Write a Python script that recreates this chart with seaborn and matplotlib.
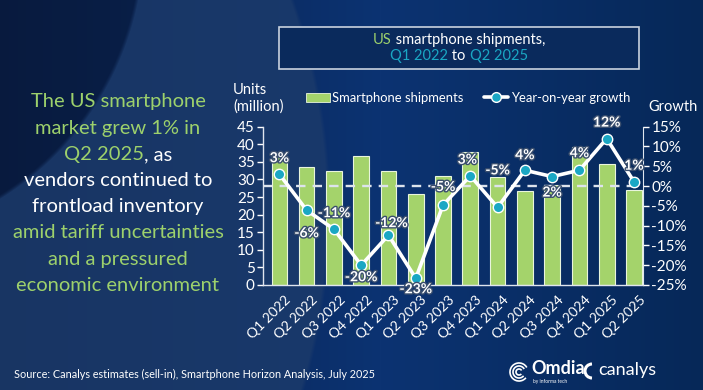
import numpy as np
import matplotlib
matplotlib.use("Agg")
import matplotlib.pyplot as plt
import matplotlib.patheffects as pe
from matplotlib.patches import Patch, Rectangle, Arc
from matplotlib.lines import Line2D
from matplotlib.transforms import ScaledTranslation
import seaborn as sns

sns.set_style("white")
plt.rcParams['font.family'] = ['Lato', 'DejaVu Sans']

# data
quarters = ["Q1 2022", "Q2 2022", "Q3 2022", "Q4 2022", "Q1 2023", "Q2 2023", "Q3 2023",
            "Q4 2023", "Q1 2024", "Q2 2024", "Q3 2024", "Q4 2024", "Q1 2025", "Q2 2025"]
shipments = [36.8, 33.5, 32.5, 36.6, 32.4, 25.8, 31.0, 37.8, 30.6, 26.8, 28.5, 39.1, 34.3, 27.0]
growth = [3.0, -6.1, -10.9, -20.0, -12.4, -23.3, -4.8, 2.6, -5.4, 4.0, 2.4, 4.0, 12.0, 1.1]
growth_labels = ["3%", "-6%", "-11%", "-20%", "-12%", "-23%", "-5%",
                 "3%", "-5%", "4%", "2%", "4%", "12%", "1%"]
left_ticks = [0, 5, 10, 15, 20, 25, 30, 35, 40, 45]
right_ticks = [-25, -20, -15, -10, -5, 0, 5, 10, 15]

# label offsets in pixels (dx, dy)
lab_off = [(0, 16), (0, -23), (0, 16), (0, -12), (3, 12), (0, -11), (0, 18),
           (-3, 16), (0, 37), (0, 15), (0, -16), (0, 17), (0, 16), (0, 16)]

GREEN = "#a4d36b"
TEAL = "#1aa7c4"
TXT_GREEN = "#9dd16c"
WHITE = "#ffffff"

W, H = 703, 390
fig = plt.figure(figsize=(W / 100, H / 100), dpi=100)

# background
def rgb(h):
    h = h.lstrip('#')
    return np.array([int(h[i:i + 2], 16) for i in (0, 2, 4)]) / 255.0

yy, xx = np.mgrid[0:H, 0:W].astype(float)
stops_x = [0, 380, 703]
stops_c = [rgb("#0a1d45"), rgb("#0c3372"), rgb("#062858")]
img = np.zeros((H, W, 3))
for k in range(3):
    img[..., k] = np.interp(xx, stops_x, [c[k] for c in stops_c])

def soft(d):
    return np.clip(d / 4.0, 0, 1)

m_out = soft(630 - np.hypot(xx + 300, yy - 210))
m_in = soft(np.hypot(xx + 160, yy + 60) - 300)
light = m_out * m_in
lc = rgb("#1c3b6b")
img = img * (1 - 0.8 * light[..., None]) + lc * 0.8 * light[..., None]
dark = 1 - m_in
img = img * (1 - 0.5 * dark[..., None]) + rgb("#071838") * 0.5 * dark[..., None]

bg = fig.add_axes([0, 0, 1, 1])
bg.imshow(img, extent=[0, W, H, 0], aspect='auto', zorder=0)
bg.set_xlim(0, W)
bg.set_ylim(H, 0)
bg.axis('off')

# title box
bg.add_patch(Rectangle((279, 27), 360, 42, fill=True, facecolor="#0a2a5c",
                       edgecolor="#c9d2de", lw=1.2, zorder=1))


def rich_line(segments, xc, y, size):
    first = bg.text(xc, y, segments[0][0], color=segments[0][1], ha='left',
                    va='bottom', fontsize=size, zorder=3)
    items = [first]
    for s, c in segments[1:]:
        t = bg.annotate(s, xycoords=items[-1], xy=(1, 0), va='bottom', ha='left',
                        color=c, fontsize=size, zorder=3)
        items.append(t)
    fig.canvas.draw()
    r = fig.canvas.get_renderer()
    x0 = items[0].get_window_extent(r).x0
    x1 = items[-1].get_window_extent(r).x1
    h = items[0].get_window_extent(r).height
    first.set_position((xc - (x1 - x0) / 2, y + h / 2))


rich_line([("US", TXT_GREEN), (" smartphone shipments,", WHITE)], 459, 40, 10.5)
rich_line([("Q1 2022", TEAL), (" to ", WHITE), ("Q2 2025", TEAL)], 459, 56, 10.5)

story = [
    [("The US smartphone", TXT_GREEN)],
    [("market grew 1% in", TXT_GREEN)],
    [("Q2 2025", TXT_GREEN), (", as", WHITE)],
    [("vendors continued to", WHITE)],
    [("frontload inventory", WHITE)],
    [("amid tariff uncertainties", TXT_GREEN)],
    [("and a pressured", TXT_GREEN)],
    [("economic environment", TXT_GREEN)],
]
for i, segs in enumerate(story):
    rich_line(segs, 118, 102 + i * 26.2, 14.5)

# axes captions
bg.text(233, 90, "Units", color=WHITE, fontsize=10.5, va='center', ha='left', zorder=3)
bg.text(233, 107, "(million)", color=WHITE, fontsize=10.5, va='center', ha='left', zorder=3)
bg.text(648, 107, "Growth", color=WHITE, fontsize=10.5, va='center', ha='left', zorder=3)

# main chart
ax = fig.add_axes([263 / W, 1 - 285 / H, 380 / W, 158.3 / H])
ax.set_facecolor('none')
sns.barplot(x=quarters, y=shipments, color=GREEN, width=0.575, saturation=1,
            edgecolor="#e9f5dd", linewidth=0.8, ax=ax, zorder=2)
ax.set_xlim(-0.6, 13.33)
ax.set_ylim(0, 45)
ax.set_yticks(left_ticks)
ax.set_xlabel("")
ax.set_ylabel("")
for s in ["top", "right"]:
    ax.spines[s].set_visible(False)
for s in ["left", "bottom"]:
    ax.spines[s].set_color("#dfe5ee")
    ax.spines[s].set_linewidth(1)
ax.tick_params(axis='y', colors=WHITE, labelsize=11, length=4, width=1, direction='out', pad=2,
               left=True)
ax.tick_params(axis='x', colors=WHITE, labelsize=10, length=0, pad=6)
shift = ScaledTranslation(5 / 100, 0, fig.dpi_scale_trans)
for lbl in ax.get_xticklabels():
    lbl.set_rotation(45)
    lbl.set_ha('right')
    lbl.set_rotation_mode('anchor')
    lbl.set_transform(lbl.get_transform() + shift)

ax2 = ax.twinx()
ax2.axhline(0, color="#dde3ec", lw=1.7, ls=(0, (4, 3)), zorder=1)
xs = np.arange(len(quarters))
sns.lineplot(x=xs, y=growth, ax=ax2, color=WHITE, lw=2.6, marker='o', markersize=7.5,
             markerfacecolor=TEAL, markeredgecolor=WHITE, markeredgewidth=1, zorder=3)
ax2.set_ylim(-25, 15)
ax2.set_yticks(right_ticks)
ax2.set_yticklabels([f"{v}%" for v in right_ticks])
ax2.set_xlim(-0.6, 13.33)
for s in ["top", "left", "bottom"]:
    ax2.spines[s].set_visible(False)
ax2.spines["right"].set_color("#dfe5ee")
ax2.tick_params(axis='y', colors=WHITE, labelsize=11, length=4, width=1, direction='out', pad=2,
                right=True)
ax2.set_ylabel("")

for i, (v, lab) in enumerate(zip(growth, growth_labels)):
    dx, dy = lab_off[i]
    ax2.annotate(lab, (i, v), xytext=(dx, dy), textcoords='offset pixels', ha='center',
                 va='center', color=WHITE, fontsize=10, fontweight='bold', zorder=5,
                 path_effects=[pe.withStroke(linewidth=2, foreground="#3b4f6e")])

handles = [Patch(facecolor=GREEN, edgecolor="#e9f5dd", lw=0.6),
           Line2D([], [], color=WHITE, lw=2.6, marker='o', markersize=7,
                  markerfacecolor=TEAL, markeredgecolor=WHITE)]
fig.legend(handles, ["Smartphone shipments", "Year-on-year growth"], loc='center',
           bbox_to_anchor=(468 / W, 1 - 98 / H), ncol=2, frameon=False, labelcolor=WHITE,
           fontsize=9.4, handlelength=1.8, handletextpad=0.2, columnspacing=1.6)

# footer
bg.text(14, 374, "Source: Canalys estimates (sell-in), Smartphone Horizon Analysis, July 2025",
        color=WHITE, fontsize=7.8, va='center', ha='left', zorder=3)
for rr in (9, 6, 3):
    bg.add_patch(Arc((519, 372), 2 * rr, 2 * rr, theta1=40, theta2=330, color=WHITE, lw=1.2, zorder=3))
bg.text(531, 368, "Omdia", color=WHITE, fontsize=13, fontweight='bold', va='center', ha='left', zorder=3)
bg.text(533, 381, "by informa tech", color=WHITE, fontsize=3.5, va='center', ha='left', zorder=3)
bg.add_patch(Arc((592, 371), 14, 14, theta1=90, theta2=270, color=WHITE, lw=2.2, zorder=3))
bg.text(598, 370, "canalys", color=WHITE, fontsize=13, va='center', ha='left', zorder=3)

fig.savefig("out.png", dpi=100)
